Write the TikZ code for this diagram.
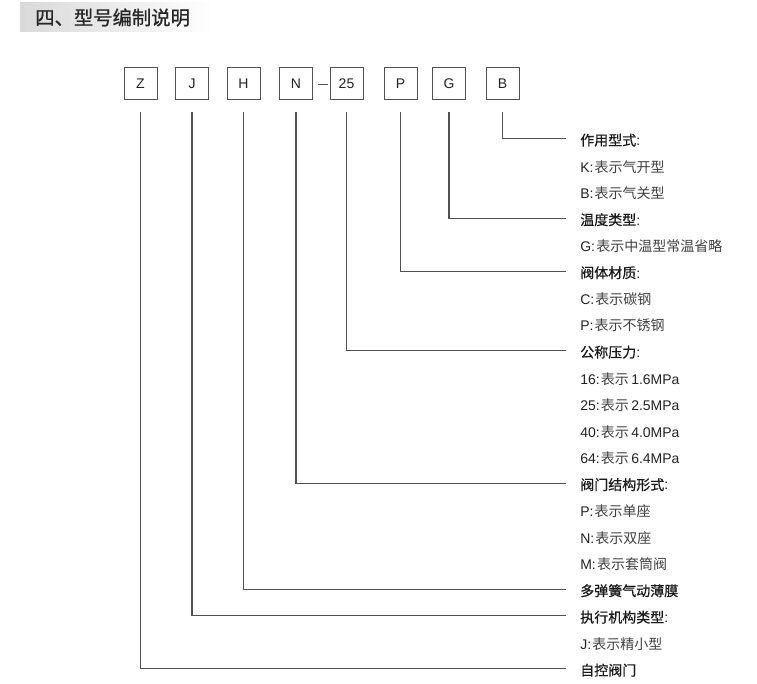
\documentclass[tikz,border=0pt]{standalone}
\usepackage{fontspec}
\setmainfont{Noto Sans CJK SC}
\newfontfamily\cjkb{Noto Sans CJK SC}[FakeBold=0.6]
\newfontfamily\cjkt{Noto Sans CJK SC}[FakeBold=0.8]
\newfontfamily\lat{Liberation Sans}
\definecolor{linegray}{HTML}{505050}
\definecolor{headc}{HTML}{1A1A1A}
\definecolor{itemc}{HTML}{404040}
\definecolor{latc}{HTML}{222222}
\newcommand{\itm}[2]{{\color{latc}\lat #1:}\hspace{0.9pt}#2}
\tikzset{
  codebox/.style={draw=linegray, line width=0.75pt, minimum width=24.75pt, minimum height=24pt, inner sep=0pt, font=\lat\fontsize{10.5pt}{12pt}\selectfont, text=latc},
  rowhead/.style={anchor=west, inner xsep=0pt, inner ysep=1pt, font=\cjkb\fontsize{10.5pt}{12pt}\selectfont, text=headc},
  rowitem/.style={anchor=west, inner xsep=0pt, inner ysep=1pt, font=\fontsize{10.5pt}{12pt}\selectfont, text=itemc},
  conn/.style={draw=linegray, line width=0.8pt},
}
\begin{document}
\begin{tikzpicture}[x=0.75pt, y=-0.75pt]
\useasboundingbox (0,0) rectangle (757,684);
% title bar
\shade[left color=black!15, right color=white] (20,3) rectangle (215,32);
\node[anchor=west, inner sep=0pt, font=\cjkt\fontsize{14.5pt}{16pt}\selectfont, text=black!85] (title) at (35,17.5) {四、型号编制说明};
% code boxes
\node[codebox] (bZ) at (140.5,84) {Z};
\node[codebox] (bJ) at (192,84) {J};
\node[codebox] (bH) at (243.5,84) {H};
\node[codebox] (bN) at (296,84) {N};
\node[codebox] (b25) at (346.5,84) {25};
\node[codebox] (bP) at (400.5,84) {P};
\node[codebox] (bG) at (449,84) {G};
\node[codebox] (bB) at (502.5,84) {B};
\draw[draw=linegray, line width=0.6pt] ([xshift=4pt]bN.east) -- ([xshift=-1.5pt]b25.west);
% rows
\foreach \i/\kind/\txt/\nm in {
  0/rowhead/{作用型式{\lat :}}/r0,
  1/rowitem/{\itm{K}{表示气开型}}/r1,
  2/rowitem/{\itm{B}{表示气关型}}/r2,
  3/rowhead/{温度类型{\lat :}}/r3,
  4/rowitem/{\itm{G}{表示中温型常温省略}}/r4,
  5/rowhead/{阀体材质{\lat :}}/r5,
  6/rowitem/{\itm{C}{表示碳钢}}/r6,
  7/rowitem/{\itm{P}{表示不锈钢}}/r7,
  8/rowhead/{公称压力{\lat :}}/r8,
  9/rowitem/{\itm{16}{表示{\color{latc}\lat\,1.6MPa}}}/r9,
  10/rowitem/{\itm{25}{表示{\color{latc}\lat\,2.5MPa}}}/r10,
  11/rowitem/{\itm{40}{表示{\color{latc}\lat\,4.0MPa}}}/r11,
  12/rowitem/{\itm{64}{表示{\color{latc}\lat\,6.4MPa}}}/r12,
  13/rowhead/{阀门结构形式{\lat :}}/r13,
  14/rowitem/{\itm{P}{表示单座}}/r14,
  15/rowitem/{\itm{N}{表示双座}}/r15,
  16/rowitem/{\itm{M}{表示套筒阀}}/r16,
  17/rowhead/{多弹簧气动薄膜}/r17,
  18/rowhead/{执行机构类型{\lat :}}/r18,
  19/rowitem/{\itm{J}{表示精小型}}/r19,
  20/rowhead/{自控阀门}/r20}
{
  \node[\kind] (\nm) at (580, 140.2+26.5*\i) {\txt};
}
% connectors
\foreach \b/\r in {bB/r0, bG/r3, bP/r5, b25/r8, bN/r13, bH/r17, bJ/r18, bZ/r20}
{
  \draw[conn] ([yshift=-9pt]\b.south) |- ([xshift=-10.5pt, yshift=1.1pt]\r.west);
}
\end{tikzpicture}
\end{document}
